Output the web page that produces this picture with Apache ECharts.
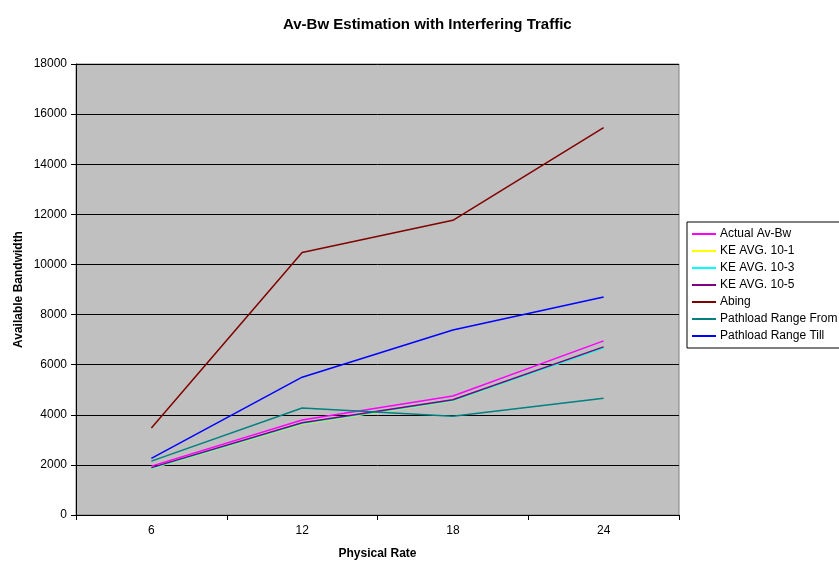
<!DOCTYPE html>
<html>
<head>
<meta charset="utf-8">
<script src="https://cdn.jsdelivr.net/npm/echarts@6/dist/echarts.min.js"></script>
<style>
  html, body { margin: 0; padding: 0; background: #fff; }
  #chart { width: 839px; height: 562px; }
</style>
</head>
<body>
<div id="chart"></div>
<script>
// Physical rate categories
const rates = ['6', '12', '18', '24'];

// Available bandwidth per estimator
const actualAvBw   = [1950, 3790, 4750, 6950];
const keAvg101     = [1850, 3630, 4560, 6670];
const keAvg103     = [1860, 3650, 4570, 6660];
const keAvg105     = [1890, 3680, 4600, 6710];
const abing        = [3470, 10480, 11760, 15460];
const pathloadFrom = [2150, 4270, 3940, 4660];
const pathloadTill = [2260, 5500, 7380, 8700];

const yTicks = { min: 0, max: 18000, step: 2000 };

const seriesDefs = [
  { name: 'Actual Av-Bw',        data: actualAvBw,   color: '#FF00FF' },
  { name: 'KE AVG. 10-1',        data: keAvg101,     color: '#FFFF00' },
  { name: 'KE AVG. 10-3',        data: keAvg103,     color: '#00FFFF' },
  { name: 'KE AVG. 10-5',        data: keAvg105,     color: '#800080' },
  { name: 'Abing',               data: abing,        color: '#800000' },
  { name: 'Pathload Range From', data: pathloadFrom, color: '#008080' },
  { name: 'Pathload Range Till', data: pathloadTill, color: '#0000FF' }
];

const font = 'Arial, "Liberation Sans", sans-serif';
const chart = echarts.init(document.getElementById('chart'), null, { renderer: 'canvas' });

chart.setOption({
  animation: false,
  backgroundColor: '#ffffff',
  textStyle: { fontFamily: font },
  title: {
    text: 'Av-Bw Estimation with Interfering Traffic',
    left: 278,
    top: 12,
    textStyle: { fontFamily: font, fontSize: 15, fontWeight: 'bold', color: '#000' }
  },
  legend: {
    orient: 'vertical',
    left: 687,
    top: 222,
    padding: [5, 30, 5, 5],
    itemGap: 3,
    itemWidth: 24,
    itemHeight: 2,
    icon: 'rect',
    backgroundColor: '#ffffff',
    borderColor: '#000000',
    borderWidth: 1,
    borderRadius: 0,
    textStyle: { fontFamily: font, fontSize: 12, color: '#000', lineHeight: 14, padding: [0, 0, 0, -1] },
    data: seriesDefs.map(s => s.name)
  },
  grid: {
    left: 76,
    right: 160,
    top: 64,
    bottom: 47,
    outerBoundsMode: 'none',
    show: true,
    backgroundColor: '#C0C0C0',
    borderColor: '#808080',
    borderWidth: 1
  },
  xAxis: {
    type: 'category',
    data: rates,
    boundaryGap: true,
    name: 'Physical Rate',
    nameLocation: 'middle',
    nameMoveOverlap: false,
    nameGap: 33,
    nameTextStyle: { fontFamily: font, fontSize: 12, fontWeight: 'bold', color: '#000' },
    axisLine: { lineStyle: { color: '#000', width: 1 } },
    axisTick: { show: true, inside: false, length: 5, lineStyle: { color: '#000' } },
    axisLabel: { fontFamily: font, fontSize: 12, color: '#000', margin: 10 },
    splitLine: { show: false }
  },
  yAxis: {
    type: 'value',
    min: yTicks.min,
    max: yTicks.max,
    interval: yTicks.step,
    name: 'Available Bandwidth',
    nameLocation: 'middle',
    nameMoveOverlap: false,
    nameGap: 51,
    nameRotate: 90,
    nameTextStyle: { fontFamily: font, fontSize: 12, fontWeight: 'bold', color: '#000' },
    axisLine: { show: true, lineStyle: { color: '#000', width: 1 } },
    axisTick: { show: true, inside: false, length: 5, lineStyle: { color: '#000' } },
    axisLabel: { fontFamily: font, fontSize: 12, color: '#000', margin: 9, formatter: v => String(v) },
    splitLine: { show: true, lineStyle: { color: '#000', width: 1 } }
  },
  series: seriesDefs.map(s => ({
    name: s.name,
    type: 'line',
    data: s.data,
    symbol: 'none',
    showSymbol: false,
    color: s.color,
    lineStyle: { color: s.color, width: 1.5 },
    itemStyle: { color: s.color },
    emphasis: { disabled: true }
  }))
});
</script>
</body>
</html>
